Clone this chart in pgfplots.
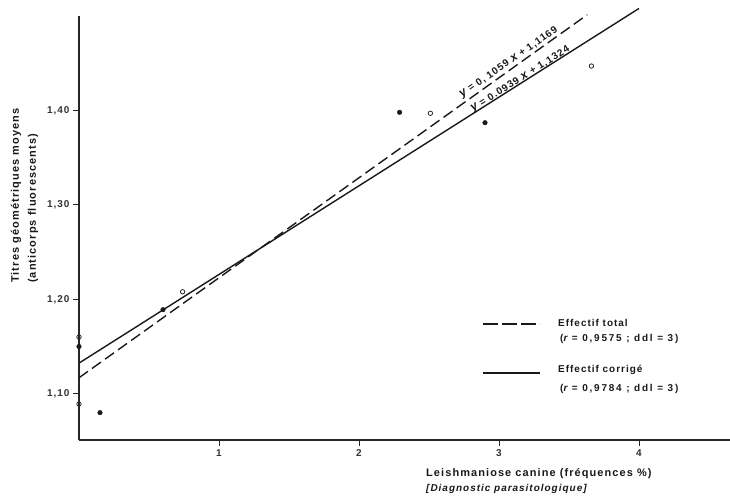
\documentclass[border=0pt]{standalone}
\usepackage{pgfplots}
\pgfplotsset{compat=1.18}
\usepackage{fontspec}
\setmainfont{Liberation Sans}
\newfontfamily\scan[LetterSpace=10]{Liberation Sans}
\newfontfamily\scanw[LetterSpace=18]{Liberation Sans}
\begin{document}
\begin{tikzpicture}
\begin{axis}[
  scale only axis, width=651bp, height=424bp,
  xmin=0, xmax=4.65, ymin=1.051, ymax=1.50,
  axis x line*=bottom, axis y line*=left,
  axis line style={-, line width=1.1bp, black!85},
  tick style={line width=0.9bp, black!85},
  tick align=outside, major tick length=6bp,
  xtick={1,2,3,4}, ytick={1.1,1.2,1.3,1.4},
  /pgf/number format/assume math mode=true,
  yticklabel style={/pgf/number format/.cd, fixed, fixed zerofill, precision=2, use comma},
  ticklabel style={font=\scan\fontsize{10}{11}\selectfont\bfseries, black!80},
  clip=false,
]
% regression lines
\addplot[black!90, line width=1.4bp, dash pattern=on 11bp off 5bp] coordinates {(0,1.1169) (3.63,1.5013)};
\addplot[black!90, line width=1.4bp] coordinates {(0,1.1324) (4.0,1.5080)};
% observations
\addplot[only marks, mark=o, mark size=2.2bp, black!85, mark options={line width=0.8bp}] coordinates {
 (0,1.160) (0,1.089) (0.74,1.208) (2.51,1.397) (3.66,1.447)};
\addplot[only marks, mark=*, mark size=2.3bp, black!90] coordinates {
 (0,1.150) (0.15,1.080) (0.60,1.189) (2.29,1.398) (2.90,1.387)};
\end{axis}
% equations
\node[rotate=34.8, anchor=base west, inner sep=0pt, font=\scan\fontsize{10}{11}\selectfont\bfseries, black!90] at (383bp,342bp) {{\itshape\large y} = 0, 1059 {\itshape\large x} + 1,1169};
\node[rotate=32.3, anchor=base west, inner sep=0pt, font=\scan\fontsize{10}{11}\selectfont\bfseries, black!90] at (394bp,328bp) {{\itshape\large y} = 0.0939 {\itshape\large x} + 1,1324};
% y label
\node[rotate=90, anchor=west, inner sep=0pt, font=\scan\fontsize{11}{12}\selectfont\bfseries, black!90] at (-63bp,157bp) {Titres géométriques moyens};
\node[rotate=90, anchor=west, inner sep=0pt, font=\scan\fontsize{11}{12}\selectfont\bfseries, black!90] at (-46bp,157bp) {(anticorps fluorescents)};
% x label
\node[anchor=west, inner sep=0pt, font=\scan\fontsize{11}{12}\selectfont\bfseries, black!90] at (347bp,-34bp) {Leishmaniose canine (fréquences \%)};
\node[anchor=west, inner sep=0pt, font=\scan\fontsize{10}{12}\selectfont\bfseries\itshape, black!90] at (347bp,-49bp) {[Diagnostic parasitologique]};
% legend
\draw[black!90, line width=1.4bp, dash pattern=on 15bp off 4bp] (404bp,116bp) -- (461bp,116bp);
\node[anchor=west, inner sep=0pt, font=\scan\fontsize{10}{11}\selectfont\bfseries, black!90] at (479bp,117bp) {Effectif total};
\node[anchor=west, inner sep=0pt, font=\scanw\fontsize{10}{11}\selectfont\bfseries, black!90] at (481bp,101bp) {({\itshape r} = 0,9575 ; ddl = 3)};
\draw[black!90, line width=1.4bp] (404bp,67bp) -- (461bp,67bp);
\node[anchor=west, inner sep=0pt, font=\scan\fontsize{10}{11}\selectfont\bfseries, black!90] at (479bp,70bp) {Effectif corrigé};
\node[anchor=west, inner sep=0pt, font=\scanw\fontsize{10}{11}\selectfont\bfseries, black!90] at (481bp,51bp) {({\itshape r} = 0,9784 ; ddl = 3)};
\pgfresetboundingbox
\path (-79bp,-58bp) rectangle (651bp,440bp);
\end{tikzpicture}
\end{document}
